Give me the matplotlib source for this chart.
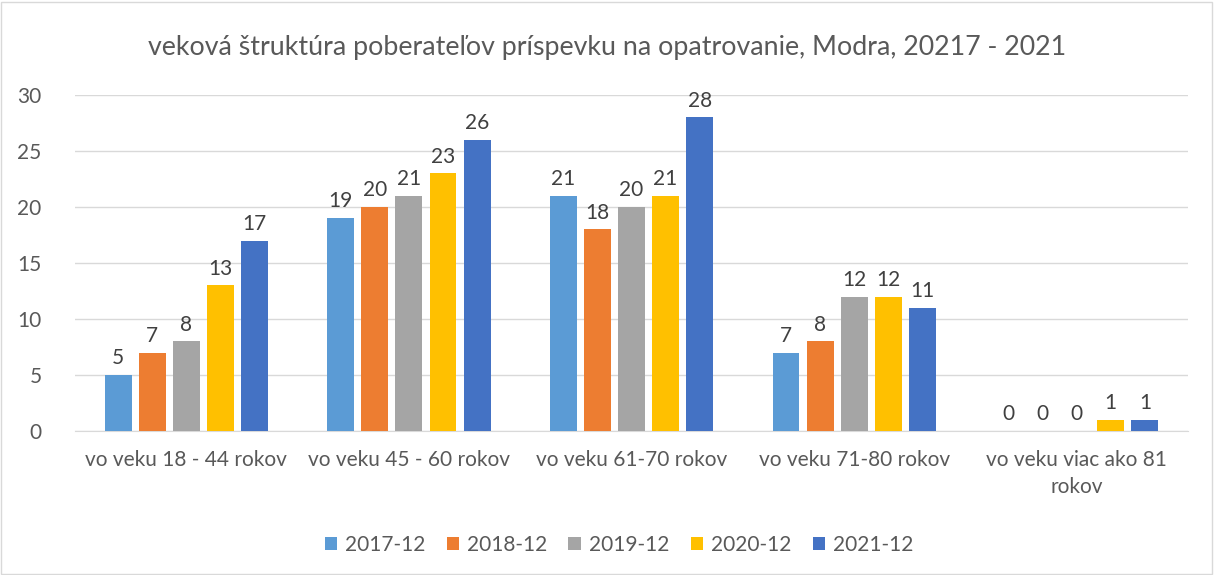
import matplotlib.pyplot as plt
import numpy as np
from matplotlib.patches import Rectangle

categories = ['vo veku 18 - 44 rokov', 'vo veku 45 - 60 rokov', 'vo veku 61-70 rokov',
              'vo veku 71-80 rokov', 'vo veku viac ako 81\nrokov']
series = ['2017-12', '2018-12', '2019-12', '2020-12', '2021-12']
v2017 = [5, 19, 21, 7, 0]
v2018 = [7, 20, 18, 8, 0]
v2019 = [8, 21, 20, 12, 0]
v2020 = [13, 23, 21, 12, 1]
v2021 = [17, 26, 28, 11, 1]
values = [v2017, v2018, v2019, v2020, v2021]
colors = ['#5B9BD5', '#ED7D31', '#A5A5A5', '#FFC000', '#4472C4']

plt.rcParams['font.family'] = ['Lato', 'DejaVu Sans']

fig = plt.figure(figsize=(12.14, 5.75), dpi=100)
ax = fig.add_axes([0.0618, 0.2504, 0.9168, 0.5844])

x = np.arange(len(categories))
w = 0.121
step = 0.153
for i, (name, vals, c) in enumerate(zip(series, values, colors)):
    pos = x + (i - 2) * step
    ax.bar(pos, vals, width=w, color=c, label=name, zorder=3)
    for xb, v in zip(pos, vals):
        ax.text(xb, v + 0.6, str(v), ha='center', va='bottom', fontsize=15, color='#404040')

ax.set_xlim(-0.5, len(categories) - 0.5)
ax.set_ylim(0, 30)
ax.set_yticks(range(0, 31, 5))
ax.grid(axis='y', color='#D9D9D9', linewidth=1, zorder=0)
for s in ['top', 'right', 'left']:
    ax.spines[s].set_visible(False)
ax.spines['bottom'].set_color('#D9D9D9')
ax.tick_params(axis='both', length=0, labelsize=15, labelcolor='#595959')
ax.tick_params(axis='y', pad=24)
ax.tick_params(axis='x', pad=14)
ax.set_xticks(x)
ax.set_xticklabels(categories, linespacing=1.4)

fig.text(0.5, 0.918, 'veková štruktúra poberateľov príspevku na opatrovanie, Modra, 20217 - 2021',
         ha='center', va='center', fontsize=19.3, color='#595959')

fig.legend(loc='center', bbox_to_anchor=(0.51, 0.052), ncol=5, frameon=False,
           fontsize=15, handlelength=0.6, handleheight=0.6, columnspacing=1.0,
           handletextpad=0.4, labelcolor='#595959')

fig.patches.append(Rectangle((0.001, 0.002), 0.997, 0.995, transform=fig.transFigure,
                             fill=False, edgecolor='#D9D9D9', linewidth=1))

fig.savefig('out.png', dpi=100)
